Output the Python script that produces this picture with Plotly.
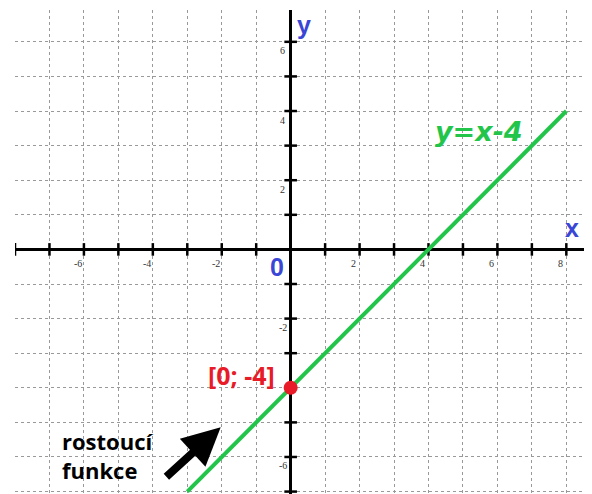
import plotly.graph_objects as go

# line y = x - 4, drawn between these x values
line_x = [-3, 8]
line_y = [x - 4 for x in line_x]

# highlighted intercept
point_x = [0]
point_y = [-4]

# axis ticks (every integer) and labels (even numbers only)
x_ticks = [k for k in range(-8, 9) if k != 0]
y_ticks = [k for k in range(-7, 7) if k != 0]
x_labels = [-6, -4, -2, 2, 4, 6, 8]
y_labels = [6, 4, 2, -2, -6]

GREEN = "rgb(34,197,74)"
BLUE = "rgb(58,70,214)"
RED = "rgb(232,28,40)"

fig = go.Figure()

# small crosses on the axes
fig.add_trace(go.Scatter(
    x=x_ticks, y=[0] * len(x_ticks), mode="markers",
    marker=dict(symbol="line-ns-open", size=9, color="black",
                line=dict(color="black", width=2.5)),
    hoverinfo="skip", showlegend=False,
))
fig.add_trace(go.Scatter(
    x=[0] * len(y_ticks), y=y_ticks, mode="markers",
    marker=dict(symbol="line-ew-open", size=9, color="black",
                line=dict(color="black", width=2.5)),
    hoverinfo="skip", showlegend=False,
))

fig.add_trace(go.Scatter(
    x=line_x, y=line_y, mode="lines",
    line=dict(color=GREEN, width=4),
    showlegend=False,
))
fig.add_trace(go.Scatter(
    x=point_x, y=point_y, mode="markers",
    marker=dict(color=RED, size=14),
    showlegend=False,
))

tick_font = dict(family="Liberation Serif", size=10, color="#333")
for v in x_labels:
    fig.add_annotation(x=v, y=0, text=str(v), showarrow=False,
                       xshift=-6, yshift=-14, font=tick_font)
for v in y_labels:
    fig.add_annotation(x=0, y=v, text=str(v), showarrow=False,
                       xshift=-8, yshift=-9, font=tick_font)

# axis names and origin
axis_font = dict(family="Liberation Sans", size=25, color=BLUE, weight="bold")
fig.add_annotation(x=0.4, y=6.5, text="y", showarrow=False, font=axis_font)
fig.add_annotation(x=8.16, y=0.62, text="x", showarrow=False, font=axis_font)
fig.add_annotation(x=-0.41, y=-0.5, text="0", showarrow=False, font=axis_font)

fig.add_annotation(x=5.47, y=3.4, text="<b><i>y=x-4</i></b>", showarrow=False,
                   font=dict(family="DejaVu Sans", size=27, color=GREEN))
fig.add_annotation(x=-1.42, y=-3.63, text="<b>[0; -4]</b>", showarrow=False,
                   font=dict(family="Open Sans", size=25, color=RED))
fig.add_annotation(x=-6.7, y=-5.95, text="<b>rostoucí<br>funkce</b>", showarrow=False,
                   xanchor="left", align="left",
                   font=dict(family="Open Sans", size=22, color="black"))

# thick arrow
fig.add_annotation(x=-2.03, y=-5.14, ax=-3.65, ay=-6.61, axref="x", ayref="y",
                   text="", showarrow=True, arrowhead=2, arrowsize=0.95,
                   arrowwidth=8, arrowcolor="black")

fig.update_xaxes(
    range=[-8, 8.6], dtick=1, tick0=0,
    showgrid=True, gridcolor="#999", gridwidth=1, griddash="dot",
    zeroline=True, zerolinecolor="black", zerolinewidth=3,
    showticklabels=False, showline=False, fixedrange=True,
)
fig.update_yaxes(
    range=[-7.07, 6.92], dtick=1, tick0=0,
    showgrid=True, gridcolor="#999", gridwidth=1, griddash="dot",
    zeroline=True, zerolinecolor="black", zerolinewidth=3,
    showticklabels=False, showline=False, fixedrange=True,
)

# page body adds an 8px offset, so the figure is sized to fit inside the window
fig.update_layout(
    width=584, height=486,
    margin=dict(l=7, r=5, t=2, b=0),
    plot_bgcolor="white", paper_bgcolor="white",
    showlegend=False,
)

fig.write_html("out.html")
